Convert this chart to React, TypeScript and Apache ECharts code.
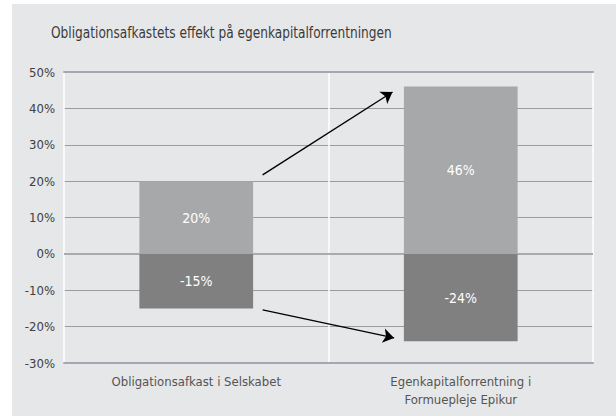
import React, { useEffect, useRef } from "react";
import * as echarts from "echarts";

const titleText = "Obligationsafkastets effekt på egenkapitalforrentningen";
const categories = ["Obligationsafkast i Selskabet", "Egenkapitalforrentning i\nFormuepleje Epikur"];
const positiveValues = [20, 46];
const negativeValues = [-15, -24];
// arrows: [x, y] in (hidden value x-axis 0..2, percent)
const arrowUpper = [[0.751, 21.7], [1.242, 44.5]];
const arrowLower = [[0.751, -15.4], [1.248, -23.1]];
const yMin = -30;
const yMax = 50;
const yStep = 10;

const FONT = "'DejaVu Sans Condensed', 'DejaVu Sans', sans-serif";

export default function App() {
  const ref = useRef<HTMLDivElement>(null);
  useEffect(() => {
    if (!ref.current) return;
    const chart = echarts.init(ref.current, null, { renderer: "svg" });
    chart.setOption({
      animation: false,
      backgroundColor: "#ffffff",
      textStyle: { fontFamily: FONT },
      graphic: [
        {
          type: "rect",
          z: -10,
          silent: true,
          shape: { x: 12, y: 4, width: 604, height: 412 },
          style: { fill: "#e6e7e9" },
        },
        {
          type: "text",
          x: 51,
          y: 33,
          scaleX: 0.82,
          silent: true,
          style: {
            text: titleText,
            fontFamily: FONT,
            fontSize: 16.5,
            fill: "#3a3a3a",
            verticalAlign: "middle",
            align: "left",
          },
        },
      ],
      grid: { left: 64, right: 23, top: 72, bottom: 53, containLabel: false },
      xAxis: [
        {
          type: "category",
          data: categories,
          position: "bottom",
          axisLine: { show: true, onZero: false, lineStyle: { color: "#a3a6b4", width: 2 } },
          axisTick: { show: false },
          splitLine: { show: true, lineStyle: { color: "#ffffff", width: 1.5 } },
          axisLabel: { color: "#555555", fontSize: 13, margin: 9, lineHeight: 18, fontFamily: FONT, interval: 0 },
        },
        {
          type: "value",
          min: 0,
          max: 2,
          position: "top",
          axisLine: { show: true, onZero: false, lineStyle: { color: "#a3a6b4", width: 2 } },
          axisTick: { show: false },
          axisLabel: { show: false },
          splitLine: { show: false },
        },
      ],
      yAxis: {
        type: "value",
        min: yMin,
        max: yMax,
        interval: yStep,
        axisLine: { show: false },
        axisTick: { show: false },
        axisLabel: { formatter: "{value}%", color: "#404040", fontSize: 13, margin: 9, fontFamily: FONT },
        splitLine: { show: true, lineStyle: { color: "#9c9c9c", width: 1 } },
      },
      series: [
        {
          type: "bar",
          stack: "s",
          data: positiveValues,
          barWidth: "43%",
          itemStyle: { color: "#a7a8aa" },
          label: { show: true, position: "inside", formatter: "{c}%", color: "#ffffff", fontSize: 14, fontFamily: FONT },
          markLine: {
            silent: true,
            symbol: "none",
            label: { show: false },
            lineStyle: { color: "#ababab", width: 2, type: "solid" },
            data: [{ yAxis: 0 }],
            z: 1,
          },
        },
        {
          type: "bar",
          stack: "s",
          data: negativeValues,
          barWidth: "43%",
          itemStyle: { color: "#808080" },
          label: { show: true, position: "inside", formatter: "{c}%", color: "#ffffff", fontSize: 14, fontFamily: FONT },
        },
        {
          type: "lines",
          coordinateSystem: "cartesian2d",
          xAxisIndex: 1,
          yAxisIndex: 0,
          symbol: ["none", "arrow"],
          symbolSize: 11,
          lineStyle: { color: "#000000", width: 1.4, opacity: 1 },
          data: [{ coords: arrowUpper }, { coords: arrowLower }],
          z: 5,
        },
      ],
    });
    return () => chart.dispose();
  }, []);
  return <div ref={ref} style={{ position: "absolute", left: 0, top: 0, width: 616, height: 416 }} />;
}
